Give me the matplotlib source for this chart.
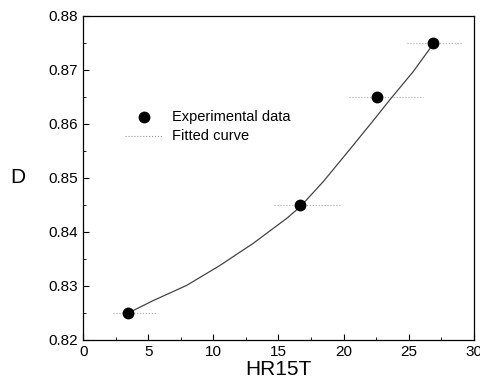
import matplotlib.pyplot as plt
from matplotlib.ticker import MultipleLocator

plt.rcParams['font.family'] = ['Liberation Sans', 'DejaVu Sans']

# experimental points with horizontal spread
hr15t = [3.46, 16.64, 22.6, 26.85]
d_val = [0.825, 0.845, 0.865, 0.875]
x_lo = [2.25, 14.64, 20.4, 24.9]
x_hi = [5.63, 19.7, 26.1, 29.1]

# fitted curve
fit_x = [3.46, 5.38, 7.94, 10.5, 13.06, 15.62, 16.64, 18.43, 20.48, 22.27, 23.56, 25.35, 26.88]
fit_d = [0.8250, 0.8273, 0.8301, 0.8338, 0.8379, 0.8425, 0.8446, 0.8493, 0.8553,
         0.8606, 0.8645, 0.8697, 0.8748]

fig = plt.figure(figsize=(4.81, 3.89), dpi=100)
ax = fig.add_axes([0.173, 0.126, 0.812, 0.833])

for lo, hi, y in zip(x_lo, x_hi, d_val):
    ax.plot([lo, hi], [y, y], color='#aaaaaa', lw=0.8, ls=':')

ax.plot(fit_x, fit_d, color='#444444', lw=0.9)
ax.plot(hr15t, d_val, 'o', color='black', ms=7.5)

# legend drawn by hand
ax.plot([4.7], [0.8612], 'o', color='black', ms=7.5)
ax.text(6.8, 0.8612, 'Experimental data', fontsize=10.5, va='center')
ax.plot([3.2, 6.1], [0.8578, 0.8578], color='#999999', lw=0.8, ls=':')
ax.text(6.8, 0.8578, 'Fitted curve', fontsize=10.5, va='center')

ax.set_xlim(0, 30)
ax.set_ylim(0.82, 0.88)
ax.xaxis.set_major_locator(MultipleLocator(5))
ax.xaxis.set_minor_locator(MultipleLocator(2.5))
ax.yaxis.set_major_locator(MultipleLocator(0.01))
ax.yaxis.set_minor_locator(MultipleLocator(0.005))
ax.tick_params(which='both', direction='in', labelsize=11)
ax.tick_params(which='major', length=4)
ax.tick_params(which='minor', length=2)
ax.set_yticklabels(['%.2f' % v for v in ax.get_yticks()])

ax.set_xlabel('HR15T', fontsize=15, labelpad=1)
ax.set_ylabel('D', fontsize=15, rotation=0, labelpad=22, va='center')

for s in ax.spines.values():
    s.set_linewidth(0.9)

fig.savefig('out.png', dpi=100)
